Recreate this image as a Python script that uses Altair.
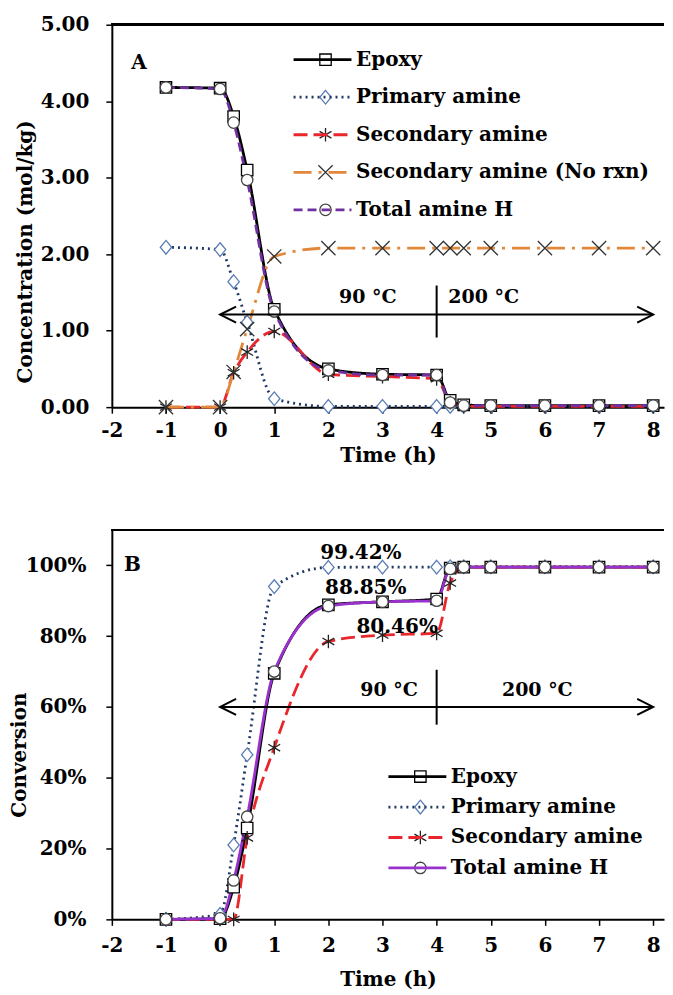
import altair as alt
import pandas as pd

# ---------------- data ----------------
time = [-1, 0, 0.25, 0.5, 1, 2, 3, 4, 4.25, 4.5, 5, 6, 7, 8]

series_a = ["Epoxy", "Primary amine", "Secondary amine",
            "Secondary amine (No rxn)", "Total amine H"]
a_epoxy = [4.18, 4.17, 3.80, 3.10, 1.28, 0.50, 0.43, 0.42, 0.09, 0.03, 0.02, 0.02, 0.02, 0.02]
a_primary = [2.09, 2.06, 1.64, 1.11, 0.11, 0.01, 0.01, 0.01, 0.01, 0.01, 0.01, 0.01, 0.01, 0.01]
a_secondary = [0.0, 0.0, 0.45, 0.72, 0.99, 0.43, 0.40, 0.37, 0.06, 0.01, 0.01, 0.01, 0.01, 0.01]
a_norxn = [0.0, 0.0, 0.46, 1.02, 1.97, 2.08, 2.08, 2.08, 2.08, 2.08, 2.08, 2.08, 2.08, 2.08]
a_total = [4.18, 4.16, 3.72, 2.97, 1.25, 0.48, 0.42, 0.42, 0.06, 0.02, 0.02, 0.02, 0.02, 0.02]

series_b = ["Epoxy", "Primary amine", "Secondary amine", "Total amine H"]
b_epoxy = [0.0, 0.002, 0.091, 0.258, 0.695, 0.8885, 0.897, 0.905, 0.992, 0.995, 0.995, 0.995, 0.995, 0.995]
b_primary = [0.0, 0.014, 0.21, 0.465, 0.94, 0.9942, 0.995, 0.995, 0.996, 0.996, 0.996, 0.996, 0.996, 0.996]
b_secondary = [0.0, 0.0, 0.0, 0.23, 0.485, 0.785, 0.803, 0.808, 0.95, 0.995, 0.995, 0.995, 0.995, 0.995]
b_total = [0.0, 0.003, 0.11, 0.29, 0.70, 0.885, 0.897, 0.90, 0.99, 0.995, 0.995, 0.995, 0.995, 0.995]

x_ticks = [-2, -1.5, -1, -0.5, 0, 0.5, 1, 1.5, 2, 2.5, 3, 3.5, 4, 4.5, 5, 5.5, 6, 6.5, 7, 7.5, 8]
y_ticks_a = [0, 0.5, 1, 1.5, 2, 2.5, 3, 3.5, 4, 4.5, 5]
y_ticks_b = [0, 0.1, 0.2, 0.3, 0.4, 0.5, 0.6, 0.7, 0.8, 0.9, 1.0]

# annotations
arrow_a = {"x0": 0, "x1": 8, "y": 1.21, "xv": 4, "yv0": 0.91, "yv1": 1.59}
arrow_b = {"x0": 0, "x1": 8, "y": 0.60, "xv": 4, "yv0": 0.55, "yv1": 0.705}
temp_labels_a = {"text": ["90 °C", "200 °C"], "x": [2.73, 4.87], "y": [1.44, 1.44]}
temp_labels_b = {"text": ["90 °C", "200 °C"], "x": [3.12, 5.86], "y": [0.649, 0.649]}
pct_labels = {"text": ["99.42%", "88.85%", "80.46%"], "x": [2.6, 2.69, 3.27], "y": [1.035, 0.936, 0.826]}
panel_a_label = {"text": ["A"], "x": [-1.5], "y": [4.5]}
panel_b_label = {"text": ["B"], "x": [-1.62], "y": [1.0]}

# ---------------- style ----------------
FONT = "DejaVu Serif"
W = 553
HA = 383
HB = 390
XDOM = [-2, 8.2]

colors_a = ["#000000", "#1F3864", "#E8262B", "#E2883A", "#7030A0"]
dashes_a = [[1, 0], [2, 4], [14, 6], [18, 7, 3, 7], [9, 5]]
mcolors_a = ["#000000", "#5A7DB5", "#222222", "#333333", "#444444"]

colors_b = ["#000000", "#1F3864", "#E8262B", "#9932CC"]
dashes_b = [[1, 0], [2, 4], [14, 6], [1, 0]]
mcolors_b = ["#000000", "#5A7DB5", "#222222", "#444444"]

SQUARE = "M-1,-1L1,-1L1,1L-1,1Z"
DIAMOND = "M0,-1.2L1,0L0,1.2L-1,0Z"
ASTER = "M0,-1.2L0,1.2M-1.04,-0.6L1.04,0.6M-1.04,0.6L1.04,-0.6"
XMARK = "M-1.25,-1.25L1.25,1.25M-1.25,1.25L1.25,-1.25"
shapes_a = [SQUARE, DIAMOND, ASTER, XMARK, "circle"]
shapes_b = [SQUARE, DIAMOND, ASTER, "circle"]


def long_df(series, arrays):
    rows = []
    for s, arr in zip(series, arrays):
        for t, v in zip(time, arr):
            rows.append({"time": t, "value": v, "series": s, "marker": "m " + s})
    return pd.DataFrame(rows)


df_a = long_df(series_a, [a_epoxy, a_primary, a_secondary, a_norxn, a_total])
df_b = long_df(series_b, [b_epoxy, b_primary, b_secondary, b_total])

x_axis_a = alt.Axis(values=x_ticks, labelExpr="datum.value % 1 == 0 ? datum.value : ''",
                    title="Time (h)", tickSize=6, labelPadding=7, titlePadding=5,
                    grid=False)
x_axis_b = alt.Axis(values=x_ticks, labelExpr="datum.value % 1 == 0 ? datum.value : ''",
                    title="Time (h)", tickSize=6, labelPadding=10, titlePadding=14,
                    grid=False)
y_axis_a = alt.Axis(values=y_ticks_a,
                    labelExpr="datum.value % 1 == 0 ? format(datum.value, '.2f') : ''",
                    title="Concentration (mol/kg)", tickSize=6, labelPadding=17,
                    titleAngle=-90, titleBaseline="middle", titleAlign="center",
                    titleX=-86, titleY=227, grid=False)
y_axis_b = alt.Axis(values=y_ticks_b,
                    labelExpr="round(datum.value*100) % 20 == 0 ? format(datum.value, '.0%') : ''",
                    title="Conversion", tickSize=6, labelPadding=20,
                    titleAngle=-90, titleBaseline="middle", titleAlign="center",
                    titleX=-92, titleY=225, grid=False)


def legend_pair(x, y, row_pad):
    common = dict(orient="none", legendY=y, title=None, clipHeight=20,
                  rowPadding=row_pad, padding=0, symbolOffset=0,
                  labelFont=FONT, labelFontWeight="bold", labelFontSize=20,
                  labelColor="black", labelLimit=0)
    line_leg = alt.Legend(legendX=x, symbolType="stroke", symbolSize=3364,
                          symbolStrokeWidth=2.8, labelOffset=3, **common)
    pt_leg = alt.Legend(legendX=x + 23.5, symbolSize=130, symbolStrokeWidth=1.3,
                        symbolFillColor="white", labelExpr="''", labelOffset=0,
                        **common)
    return line_leg, pt_leg


def panel(df, series, colors, dashes, mcolors, shapes, ydom, yaxis, xaxis,
          leg_x, leg_y, row_pad):
    line_leg, pt_leg = legend_pair(leg_x, leg_y, row_pad)
    markers = ["m " + s for s in series]
    xenc = alt.X("time:Q", scale=alt.Scale(domain=XDOM, nice=False, zero=False), axis=xaxis)
    yenc = alt.Y("value:Q", scale=alt.Scale(domain=ydom, nice=False, zero=False), axis=yaxis)
    lines = alt.Chart(df).mark_line(interpolate="monotone", strokeWidth=2.8).encode(
        x=xenc, y=yenc,
        color=alt.Color("series:N", scale=alt.Scale(domain=series, range=colors), legend=line_leg),
        strokeDash=alt.StrokeDash("series:N", scale=alt.Scale(domain=series, range=dashes), legend=line_leg),
        order=alt.Order("time:Q"),
    )
    pts = alt.Chart(df).mark_point(filled=False, fill="white", size=130, strokeWidth=1.3,
                                   opacity=1).encode(
        x=alt.X("time:Q"), y=alt.Y("value:Q"),
        shape=alt.Shape("marker:N", scale=alt.Scale(domain=markers, range=shapes), legend=pt_leg),
        stroke=alt.Stroke("marker:N", scale=alt.Scale(domain=markers, range=mcolors), legend=pt_leg),
    )
    top = alt.Chart(df).mark_rule(color="black", strokeWidth=2).encode(y=alt.value(0))
    return [top, lines, pts]


def arrow_layers(arr):
    d = pd.DataFrame([{"x0": arr["x0"], "x1": arr["x1"], "y": arr["y"]}])
    h = alt.Chart(d).mark_rule(color="black", strokeWidth=2).encode(
        x="x0:Q", x2="x1:Q", y="y:Q")
    v = alt.Chart(pd.DataFrame([{"x": arr["xv"], "y0": arr["yv0"], "y1": arr["yv1"]}])).mark_rule(
        color="black", strokeWidth=2).encode(x="x:Q", y="y0:Q", y2="y1:Q")
    heads = pd.DataFrame([{"x": arr["x0"], "y": arr["y"], "dir": "L"},
                          {"x": arr["x1"], "y": arr["y"], "dir": "R"}])
    hl = alt.Chart(heads).mark_point(
        filled=False, size=256, strokeWidth=2, color="black", opacity=1,
        xOffset=8).transform_filter("datum.dir == 'L'").encode(
        x="x:Q", y="y:Q", shape=alt.value("M1,-1L-1,0L1,1"))
    hr = alt.Chart(heads).mark_point(
        filled=False, size=256, strokeWidth=2, color="black", opacity=1,
        xOffset=-8).transform_filter("datum.dir == 'R'").encode(
        x="x:Q", y="y:Q", shape=alt.value("M-1,-1L1,0L-1,1"))
    return [h, v, hl, hr]


def text_layer(d, size=20):
    return alt.Chart(pd.DataFrame(d)).mark_text(
        font=FONT, fontWeight="bold", fontSize=size, color="black",
        align="center", baseline="middle").encode(x="x:Q", y="y:Q", text="text:N")


layers_a = panel(df_a, series_a, colors_a, dashes_a, mcolors_a, shapes_a, [0, 5],
                 y_axis_a, x_axis_a, 180.5, 25, 17.6)
layers_a += arrow_layers(arrow_a)
layers_a += [text_layer(temp_labels_a, 19), text_layer(panel_a_label, 20)]
chart_a = alt.layer(*layers_a).resolve_scale(
    color="independent", strokeDash="independent").properties(width=W, height=HA)

layers_b = panel(df_b, series_b, colors_b, dashes_b, mcolors_b, shapes_b, [0, 1.1],
                 y_axis_b, x_axis_b, 275.5, 237, 10.5)
layers_b += arrow_layers(arrow_b)
layers_b += [text_layer(temp_labels_b, 19), text_layer(pct_labels, 20),
             text_layer(panel_b_label, 20)]
chart_b = alt.layer(*layers_b).resolve_scale(
    color="independent", strokeDash="independent").properties(width=W, height=HB)

chart = alt.vconcat(chart_a, chart_b, spacing=123, bounds="flush").resolve_scale(
    color="independent", strokeDash="independent", shape="independent",
    stroke="independent", x="independent", y="independent"
).resolve_legend(
    color="independent", strokeDash="independent", shape="independent", stroke="independent"
).configure_view(stroke=None).configure_axis(
    labelFont=FONT, labelFontWeight="bold", labelFontSize=20, labelColor="black",
    titleFont=FONT, titleFontWeight="bold", titleFontSize=20, titleColor="black",
    domainColor="black", domainWidth=2, tickColor="black", tickWidth=1.5,
    labelOverlap=False, labelFlush=False
).properties(padding={"left": 2, "top": 6, "right": 0, "bottom": 0})

chart.save("out.html", embed_options={"renderer": "svg", "actions": False})
